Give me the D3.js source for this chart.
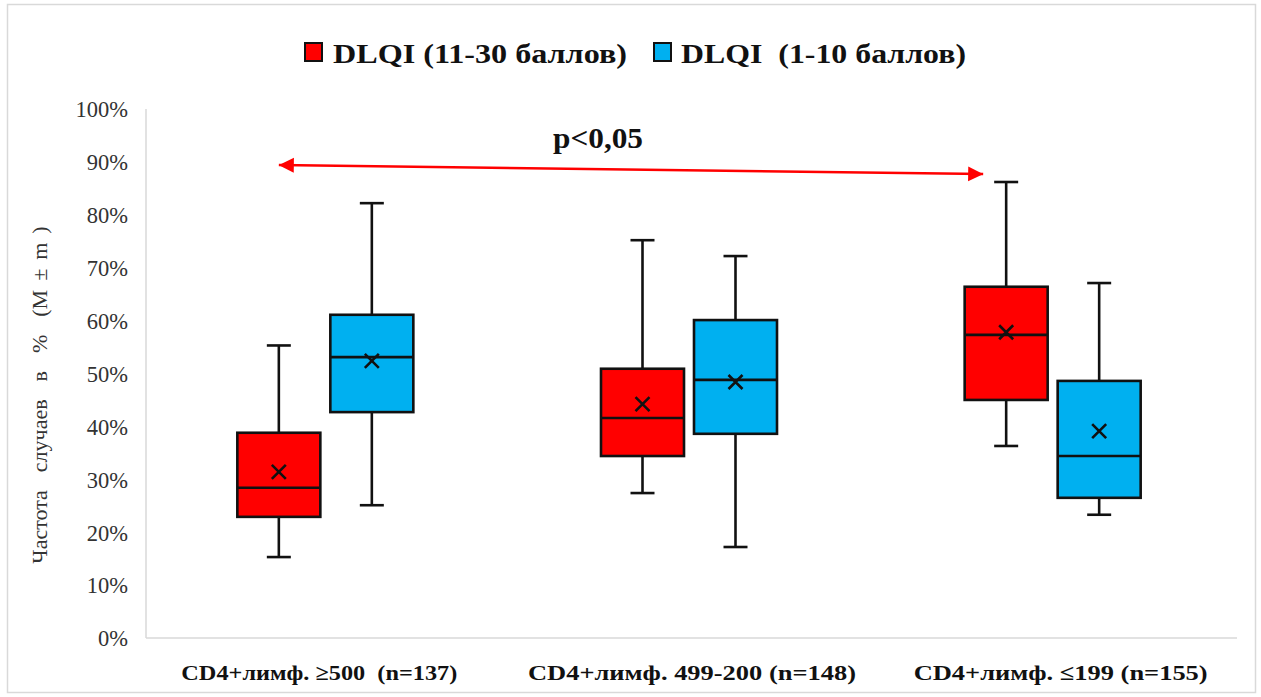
<!DOCTYPE html>
<html>
<head>
<meta charset="utf-8">
<script src="https://cdn.jsdelivr.net/npm/d3@7"></script>
<style>
  html, body { margin: 0; padding: 0; background: #fff; }
  svg { display: block; }
  svg text { font-family: "Liberation Serif", "Times New Roman", Times, serif; }
</style>
</head>
<body>
<svg id="chart" width="1261" height="697"></svg>
<script>
// Groups by CD4+ lymphocyte count
const categories = ["CD4+лимф. ≥500  (n=137)", "CD4+лимф. 499-200 (n=148)", "CD4+лимф. ≤199 (n=155)"];
const seriesNames = ["DLQI (11-30 баллов)", "DLQI  (1-10 баллов)"];
const seriesColors = ["#ff0000", "#00b0f0"];

// Box statistics per series, in % (one entry per category)
const whiskerLow = [[15.3, 27.4, 36.3], [25.1, 17.2, 23.3]];
const q1         = [[22.9, 34.4, 45.0], [42.7, 38.6, 26.5]];
const median     = [[28.4, 41.6, 57.3], [53.1, 48.8, 34.4]];
const q3         = [[38.8, 50.9, 66.4], [61.1, 60.1, 48.6]];
const whiskerHigh= [[55.3, 75.2, 86.2], [82.2, 72.2, 67.1]];
const meanVal    = [[31.4, 44.2, 57.8], [52.4, 48.4, 39.1]];

const yTicks = [0, 10, 20, 30, 40, 50, 60, 70, 80, 90, 100];
const yTitle = "Частота  случаев  в  %  (М ± m )";
const pLabel = "p<0,05";
// significance arrow: from first series of first group to first series of last group
const arrowFrom = { cat: 0, value: 89.4 };
const arrowTo   = { cat: 2, value: 87.7 };

const svg = d3.select("#chart");
const FONT = "'Liberation Serif', 'Times New Roman', Times, serif";

// outer frame
svg.append("rect")
  .attr("x", 7.5).attr("y", 4.5).attr("width", 1248).attr("height", 688)
  .attr("fill", "#fff").attr("stroke", "#d9d9d9").attr("stroke-width", 1.5);

const plot = { left: 146, right: 1237, top: 109, bottom: 638 };

const x = d3.scaleBand().domain(d3.range(categories.length))
  .range([plot.left - 2.5, plot.right - 2.5]).paddingInner(0).paddingOuter(0);
const pairWidth = 176;
const sub = d3.scaleBand().domain(d3.range(seriesNames.length))
  .range([0, pairWidth]).paddingInner(0.1075);
const subOffset = (x.bandwidth() - pairWidth) / 2;
const y = d3.scaleLinear().domain([0, 100]).range([plot.bottom, plot.top]);

// axes lines
svg.append("line").attr("x1", plot.left).attr("x2", plot.left)
  .attr("y1", y(100)).attr("y2", plot.bottom)
  .attr("stroke", "#d9d9d9").attr("stroke-width", 1.5);
svg.append("line").attr("x1", plot.left).attr("x2", plot.right)
  .attr("y1", plot.bottom).attr("y2", plot.bottom)
  .attr("stroke", "#d9d9d9").attr("stroke-width", 1.5);

// y tick labels
const yAxis = d3.axisLeft(y).tickValues(yTicks).tickFormat(d => d + "%").tickSize(0).tickPadding(18);
const gy = svg.append("g").attr("transform", `translate(${plot.left},0)`).call(yAxis);
gy.select(".domain").remove();
gy.selectAll("text")
  .attr("font-family", FONT)
  .attr("font-size", 22.5).attr("fill", "#333").attr("dy", "0.35em");

// y title
svg.append("text")
  .attr("transform", `translate(47, 395) rotate(-90)`)
  .attr("text-anchor", "middle")
  .attr("font-family", FONT)
  .attr("font-size", 22).attr("fill", "#333")
  .attr("xml:space", "preserve")
  .style("white-space", "pre")
  .style("word-spacing", "3.5px")
  .text(yTitle);

// x category labels
const xLabelWidths = [276, 328, 294];
const xLabelShift = [-6, 3, 8];
categories.forEach((c, i) => {
  svg.append("text")
    .attr("x", x(i) + x.bandwidth() / 2 + xLabelShift[i])
    .attr("y", 680)
    .attr("text-anchor", "middle")
    .attr("font-family", FONT)
    .attr("font-weight", "bold")
    .attr("font-size", 22).attr("fill", "#111")
    .attr("xml:space", "preserve")
    .style("white-space", "pre")
    .attr("textLength", xLabelWidths[i]).attr("lengthAdjust", "spacingAndGlyphs")
    .text(c);
});

// boxes
const boxData = [];
seriesNames.forEach((s, si) => {
  categories.forEach((c, ci) => {
    boxData.push({
      si, ci,
      lo: whiskerLow[si][ci], q1: q1[si][ci], med: median[si][ci],
      q3: q3[si][ci], hi: whiskerHigh[si][ci], mean: meanVal[si][ci]
    });
  });
});

const bw = sub.bandwidth();
const g = svg.append("g");
boxData.forEach(d => {
  const x0 = x(d.ci) + subOffset + sub(d.si);
  const cx = x0 + bw / 2;
  const gg = g.append("g");
  const stroke = "#111", sw = 2.6, cap = 12;
  // whiskers
  gg.append("line").attr("x1", cx).attr("x2", cx).attr("y1", y(d.hi)).attr("y2", y(d.q3))
    .attr("stroke", stroke).attr("stroke-width", sw);
  gg.append("line").attr("x1", cx).attr("x2", cx).attr("y1", y(d.q1)).attr("y2", y(d.lo))
    .attr("stroke", stroke).attr("stroke-width", sw);
  gg.append("line").attr("x1", cx - cap).attr("x2", cx + cap).attr("y1", y(d.hi)).attr("y2", y(d.hi))
    .attr("stroke", stroke).attr("stroke-width", sw);
  gg.append("line").attr("x1", cx - cap).attr("x2", cx + cap).attr("y1", y(d.lo)).attr("y2", y(d.lo))
    .attr("stroke", stroke).attr("stroke-width", sw);
  // box
  gg.append("rect").attr("x", x0).attr("y", y(d.q3)).attr("width", bw).attr("height", y(d.q1) - y(d.q3))
    .attr("fill", seriesColors[d.si]).attr("stroke", stroke).attr("stroke-width", sw);
  // median
  gg.append("line").attr("x1", x0).attr("x2", x0 + bw).attr("y1", y(d.med)).attr("y2", y(d.med))
    .attr("stroke", stroke).attr("stroke-width", sw);
  // mean marker
  const m = 7, my = y(d.mean);
  gg.append("path")
    .attr("d", `M${cx - m},${my - m}L${cx + m},${my + m}M${cx - m},${my + m}L${cx + m},${my - m}`)
    .attr("stroke", stroke).attr("stroke-width", 2.6).attr("fill", "none");
});

// legend
const legendItems = [
  { sq: 305, tx: 333, w: 294 },
  { sq: 654, tx: 681, w: 285 }
];
seriesNames.forEach((s, i) => {
  const li = legendItems[i];
  svg.append("rect").attr("x", li.sq).attr("y", 43).attr("width", 17).attr("height", 18)
    .attr("fill", seriesColors[i]).attr("stroke", "#111").attr("stroke-width", 2);
  svg.append("text").attr("x", li.tx).attr("y", 63)
    .attr("font-family", FONT)
    .attr("font-weight", "bold").attr("font-size", 28).attr("fill", "#111")
    .attr("xml:space", "preserve")
    .style("white-space", "pre")
    .attr("textLength", li.w).attr("lengthAdjust", "spacingAndGlyphs")
    .text(s);
});

// significance arrow
const defs = svg.append("defs");
defs.append("marker").attr("id", "ah").attr("viewBox", "0 0 10 10")
  .attr("refX", 10).attr("refY", 5).attr("markerWidth", 6).attr("markerHeight", 6.5)
  .attr("markerUnits", "strokeWidth")
  .attr("orient", "auto-start-reverse")
  .append("path").attr("d", "M0,0L10,5L0,10Z").attr("fill", "#ff0000");

const ax1 = x(arrowFrom.cat) + subOffset + sub(0) + bw / 2;
const ax2 = x(arrowTo.cat) + subOffset + sub(0) + bw / 2 - 23;
svg.append("line")
  .attr("x1", ax1).attr("y1", y(arrowFrom.value))
  .attr("x2", ax2).attr("y2", y(arrowTo.value))
  .attr("stroke", "#ff0000").attr("stroke-width", 2.5)
  .attr("marker-start", "url(#ah)").attr("marker-end", "url(#ah)");

svg.append("text").attr("x", 598).attr("y", 148)
  .attr("text-anchor", "middle")
  .attr("font-family", FONT)
  .attr("font-weight", "bold").attr("font-size", 29).attr("fill", "#111")
  .attr("textLength", 90).attr("lengthAdjust", "spacingAndGlyphs")
  .text(pLabel);
</script>
</body>
</html>
